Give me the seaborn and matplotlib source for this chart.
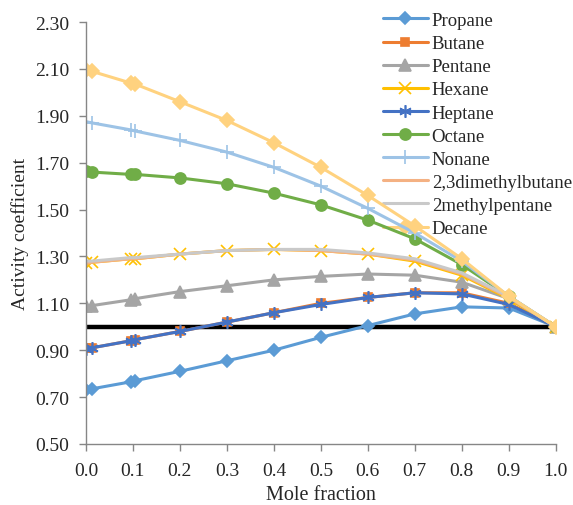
import matplotlib
matplotlib.use('Agg')
import matplotlib.pyplot as plt
from matplotlib.ticker import FormatStrFormatter
import seaborn as sns

# mole fraction points (the first grid points are doubled in the source data)
mole_fraction = [0.0, 0.012, 0.095, 0.105, 0.2, 0.3, 0.4, 0.5, 0.6, 0.7, 0.8, 0.9, 1.0]

propane = [0.73, 0.735, 0.765, 0.77, 0.81, 0.855, 0.90, 0.955, 1.005, 1.055, 1.085, 1.08, 1.0]
butane = [0.91, 0.91, 0.94, 0.945, 0.98, 1.02, 1.06, 1.10, 1.125, 1.145, 1.145, 1.10, 1.0]
pentane = [1.09, 1.09, 1.115, 1.12, 1.15, 1.175, 1.20, 1.215, 1.225, 1.22, 1.19, 1.12, 1.0]
hexane = [1.27, 1.275, 1.29, 1.29, 1.31, 1.325, 1.33, 1.325, 1.31, 1.28, 1.22, 1.12, 1.0]
heptane = [0.905, 0.91, 0.94, 0.945, 0.98, 1.02, 1.06, 1.095, 1.125, 1.145, 1.14, 1.095, 1.0]
octane = [1.665, 1.66, 1.65, 1.65, 1.635, 1.61, 1.57, 1.52, 1.455, 1.375, 1.265, 1.13, 1.0]
nonane = [1.875, 1.87, 1.84, 1.835, 1.795, 1.745, 1.68, 1.60, 1.505, 1.40, 1.28, 1.13, 1.0]
dimethylbutane = [1.27, 1.275, 1.29, 1.29, 1.31, 1.325, 1.33, 1.325, 1.31, 1.285, 1.225, 1.125, 1.0]
methylpentane = [1.28, 1.28, 1.295, 1.295, 1.31, 1.325, 1.33, 1.33, 1.315, 1.29, 1.23, 1.13, 1.0]
decane = [2.095, 2.09, 2.04, 2.035, 1.96, 1.88, 1.785, 1.68, 1.56, 1.43, 1.29, 1.13, 1.0]

ideal_line = 1.0

x_ticks = [0.0, 0.1, 0.2, 0.3, 0.4, 0.5, 0.6, 0.7, 0.8, 0.9, 1.0]
y_ticks = [0.5, 0.7, 0.9, 1.1, 1.3, 1.5, 1.7, 1.9, 2.1, 2.3]

series = [
    ('Propane', propane, '#5B9BD5', 'D', 6),
    ('Butane', butane, '#ED7D31', 's', 6),
    ('Pentane', pentane, '#A5A5A5', '^', 8),
    ('Hexane', hexane, '#FFC000', 'x', 9),
    ('Heptane', heptane, '#4472C4', (6, 2, 0), 9),
    ('Octane', octane, '#70AD47', 'o', 8),
    ('Nonane', nonane, '#9DC3E6', '+', 10),
    ('2,3dimethylbutane', dimethylbutane, '#F4B183', None, 0),
    ('2methylpentane', methylpentane, '#C9C9C9', None, 0),
    ('Decane', decane, '#FFD27F', 'D', 7),
]

sns.set_style('ticks')
plt.rcParams['font.family'] = ['Liberation Serif', 'DejaVu Serif']

fig, ax = plt.subplots(figsize=(5.73, 5.06), dpi=100)
fig.subplots_adjust(left=0.150, right=0.970, top=0.9545, bottom=0.1206)

for name, vals, color, marker, ms in series:
    sns.lineplot(x=mole_fraction, y=vals, ax=ax, color=color, marker=marker,
                 markersize=ms, markeredgecolor=color, markeredgewidth=1.2,
                 linewidth=2.2, label=name, sort=False)

ax.axhline(ideal_line, color='black', linewidth=3.2, zorder=1.5)

ax.set_xlim(0, 1.0)
ax.set_ylim(0.5, 2.3)
ax.set_xticks(x_ticks)
ax.set_yticks(y_ticks)
ax.xaxis.set_major_formatter(FormatStrFormatter('%.1f'))
ax.yaxis.set_major_formatter(FormatStrFormatter('%.2f'))
ax.tick_params(axis='both', labelsize=14, colors='#868686', labelcolor='#262626',
               length=5, width=1, direction='out', pad=7)
ax.tick_params(axis='x', pad=8)

for side in ['top', 'right']:
    ax.spines[side].set_visible(False)
for side in ['left', 'bottom']:
    ax.spines[side].set_color('#868686')
    ax.spines[side].set_linewidth(1)

ax.set_xlabel('Mole fraction', fontsize=14.5, color='#262626', labelpad=4)
ax.set_ylabel('Activity coefficient', fontsize=14, color='#262626', labelpad=4)

leg = ax.legend(loc='upper left', bbox_to_anchor=(0.632, 1.024), frameon=False,
                fontsize=13.5, handlelength=2.4, handletextpad=0.2,
                labelspacing=0.32, borderaxespad=0, borderpad=0)
leg.set_zorder(1)

plt.savefig('out.png', dpi=100)
plt.close(fig)
